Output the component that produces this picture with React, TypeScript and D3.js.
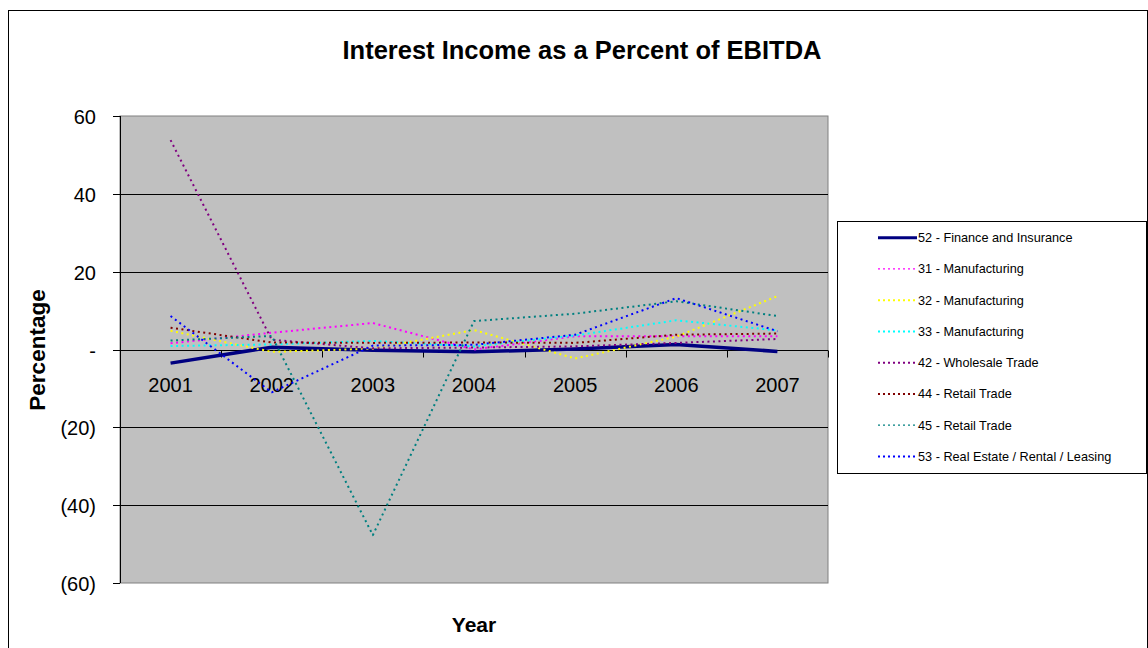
import React from "react";
import * as d3 from "d3";

const years = ["2001", "2002", "2003", "2004", "2005", "2006", "2007"];
const seriesNames = [
  "52 - Finance and Insurance",
  "31 - Manufacturing",
  "32 - Manufacturing",
  "33 - Manufacturing",
  "42 - Wholesale Trade",
  "44 - Retail Trade",
  "45 - Retail Trade",
  "53 - Real Estate / Rental / Leasing",
];
const finance52 = [-3.5, 0.6, -0.2, -0.6, 0.1, 1.3, -0.5];
const manuf31 = [1.6, 4.3, 6.8, 0.0, 3.4, 3.4, 3.4];
const manuf32 = [4.8, -0.6, 0.2, 5.0, -2.3, 3.3, 13.7];
const manuf33 = [0.9, 1.3, 2.2, 0.8, 3.6, 7.5, 4.9];
const wholesale42 = [53.8, 2.5, 0.3, 0.5, 0.8, 1.7, 2.7];
const retail44 = [5.6, 1.8, 1.7, 1.8, 1.7, 3.8, 4.1];
const retail45 = [2.3, 3.5, -47.7, 7.3, 9.2, 12.4, 8.6];
const realEstate53 = [8.6, -11.0, 1.0, 1.2, 3.8, 13.2, 4.7];
const yTicks = [60, 40, 20, 0, -20, -40, -60];

const seriesValues = [finance52, manuf31, manuf32, manuf33, wholesale42, retail44, retail45, realEstate53];
const colors = ["#000080", "#FF00FF", "#FFFF00", "#00FFFF", "#800080", "#800000", "#008080", "#0000FF"];

const FONT = "'Liberation Sans', Arial, sans-serif";

const fmt = (v: number) => (v === 0 ? "-" : v < 0 ? `(${Math.abs(v)})` : `${v}`);

export default function App() {
  const left = 120, right = 828, top = 116, bottom = 583;
  const x = d3.scaleBand<string>().domain(years).range([left, right]);
  const y = d3.scaleLinear().domain([-60, 60]).range([bottom, top]);
  const bw = x.bandwidth();
  const cx = (yr: string) => (x(yr) as number) + bw / 2;
  const line = d3
    .line<number>()
    .x((_, i) => cx(years[i]))
    .y((v) => y(v))
    .curve(d3.curveLinear);
  const y0 = Math.round(y(0)) + 0.5;

  return (
    <svg
      width={1148}
      height={648}
      style={{ position: "absolute", left: 0, top: 0, background: "#fff" }}
      fontFamily={FONT}
    >
      <rect x={8.5} y={10.5} width={1139} height={700} fill="#fff" stroke="#000" strokeWidth={1} />
      <text x={582} y={59} textAnchor="middle" fontSize={25.5} fontWeight="bold" fill="#000">
        Interest Income as a Percent of EBITDA
      </text>

      {/* plot area */}
      <rect x={left} y={top} width={right - left} height={bottom - top} fill="#C0C0C0" stroke="#808080" strokeWidth={1} />
      {yTicks.map((t) => {
        const yy = Math.round(y(t)) + 0.5;
        return (
          <g key={t}>
            {t !== 60 && t !== -60 && <line x1={left} x2={right} y1={yy} y2={yy} stroke="#000" strokeWidth={1} />}
            <line x1={left - 7} x2={left} y1={yy} y2={yy} stroke="#000" strokeWidth={1} />
            <text x={96} y={yy + 7} textAnchor="end" fontSize={20} fill="#000">
              {fmt(t)}
            </text>
          </g>
        );
      })}
      <line x1={left + 0.5} x2={left + 0.5} y1={top} y2={bottom} stroke="#000" strokeWidth={1} />
      {/* x axis at zero */}
      <line x1={left} x2={right} y1={y0} y2={y0} stroke="#000" strokeWidth={1} />
      {d3.range(years.length + 1).map((i) => {
        const xx = Math.round(left + i * bw) + 0.5;
        return <line key={i} x1={xx} x2={xx} y1={y0} y2={y0 + 7} stroke="#000" strokeWidth={1} />;
      })}
      {years.map((yr) => (
        <text key={yr} x={cx(yr)} y={392} textAnchor="middle" fontSize={20} fill="#000">
          {yr}
        </text>
      ))}

      {/* series */}
      {seriesValues.map((vals, si) => (
        <path
          key={si}
          d={line(vals) as string}
          fill="none"
          stroke={colors[si]}
          strokeWidth={si === 0 ? 3.5 : 2}
          strokeDasharray={si === 0 ? undefined : "2,3.5"}
          strokeLinejoin="round"
        />
      ))}

      <text transform="translate(45,350) rotate(-90)" textAnchor="middle" fontSize={22.5} fontWeight="bold" fill="#000">
        Percentage
      </text>
      <text x={474} y={632} textAnchor="middle" fontSize={21} fontWeight="bold" fill="#000">
        Year
      </text>

      {/* legend */}
      <rect x={837.5} y={221.5} width={309} height={252} fill="#fff" stroke="#000" strokeWidth={1} />
      {seriesNames.map((name, i) => {
        const ly = 237.7 + i * 31.25;
        return (
          <g key={name}>
            <line
              x1={878}
              x2={917}
              y1={ly}
              y2={ly}
              stroke={colors[i]}
              strokeWidth={i === 0 ? 3 : i === 1 || i === 6 ? 1.2 : 2}
              strokeDasharray={i === 0 ? undefined : "2,3"}
            />
            <text x={918} y={ly + 4.5} fontSize={12.7} fill="#000">
              {name}
            </text>
          </g>
        );
      })}
    </svg>
  );
}
